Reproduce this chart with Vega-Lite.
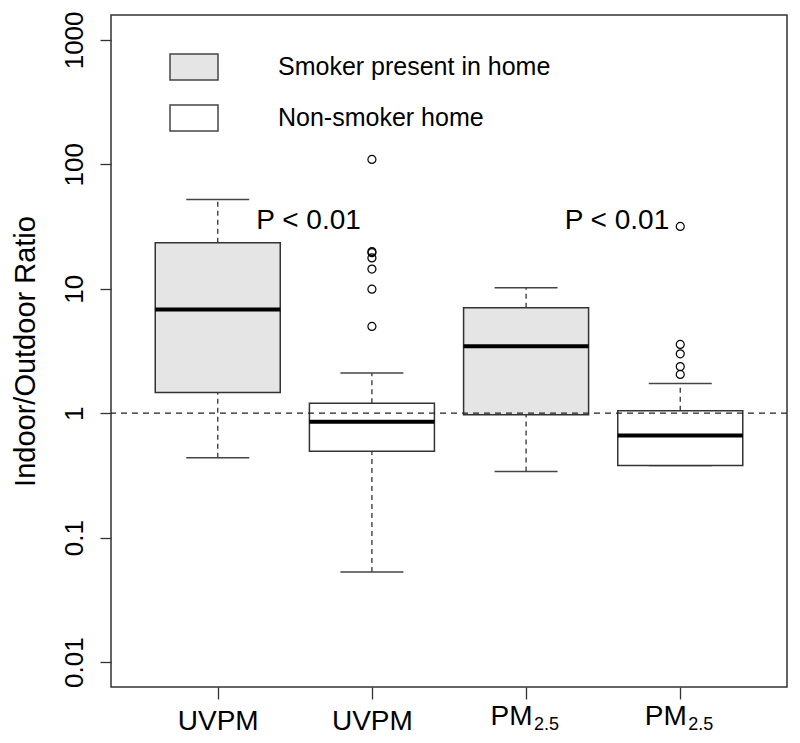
{
  "$schema": "https://vega.github.io/schema/vega-lite/v6.json",
  "width": 676,
  "height": 672,
  "autosize": {"type": "none"},
  "padding": {"left": 111, "top": 15, "right": 13, "bottom": 56},
  "background": "white",
  "config": {
    "view": {"stroke": "#333", "strokeWidth": 1.5},
    "font": "Liberation Sans",
    "axis": {"grid": false, "domainColor": "#333", "tickColor": "#333", "labelColor": "black", "titleColor": "black", "labelFont": "Liberation Sans", "titleFont": "Liberation Sans", "titleFontWeight": "normal"},
    "axisY": {
      "titleFontSize": 29,
      "titleAngle": -90,
      "titleAlign": "center",
      "titleBaseline": "alphabetic",
      "titleX": -77,
      "titleY": 336,
      "labelFontSize": 26,
      "labelAngle": -90,
      "labelAlign": "center",
      "labelBaseline": "alphabetic",
      "labelPadding": 18,
      "tickSize": 11,
      "tickWidth": 1.3,
      "domain": false,
      "labelOverlap": false,
      "labelFlush": false
    }
  },
  "datasets": {
    "boxes": [
      {"pos": 1, "group": "Smoker present in home", "lo": 0.438, "q1": 1.47, "med": 6.82, "q3": 23.4, "hi": 52.2},
      {"pos": 2, "group": "Non-smoker home", "lo": 0.0531, "q1": 0.495, "med": 0.853, "q3": 1.2, "hi": 2.1},
      {"pos": 3, "group": "Smoker present in home", "lo": 0.34, "q1": 0.97, "med": 3.46, "q3": 7.03, "hi": 10.2},
      {"pos": 4, "group": "Non-smoker home", "lo": 0.38, "q1": 0.38, "med": 0.662, "q3": 1.045, "hi": 1.73}
    ],
    "outliers": [
      {"pos": 2, "value": 109.5},
      {"pos": 2, "value": 19.9},
      {"pos": 2, "value": 19.5},
      {"pos": 2, "value": 17.7},
      {"pos": 2, "value": 14.4},
      {"pos": 2, "value": 9.93},
      {"pos": 2, "value": 4.98},
      {"pos": 4, "value": 31.7},
      {"pos": 4, "value": 3.57},
      {"pos": 4, "value": 3.0},
      {"pos": 4, "value": 2.37},
      {"pos": 4, "value": 2.05}
    ],
    "notes": [
      {"pos": 1.25, "value": 30.5, "label": "P < 0.01"},
      {"pos": 3.25, "value": 30.5, "label": "P < 0.01"}
    ]
  },
  "resolve": {"axis": {"x": "independent"}},
  "layer": [
    {
      "data": {"name": "boxes"},
      "mark": {"type": "rule", "strokeDash": [5, 4], "stroke": "#333", "strokeWidth": 1.3},
      "encoding": {
        "x": {"field": "pos", "type": "quantitative", "scale": {"domain": [0.34, 4.66], "nice": false, "zero": false}, "axis": null},
        "y": {"field": "q3", "type": "quantitative", "title": "Indoor/Outdoor Ratio", "scale": {"type": "log", "domain": [0.0063096, 1584.89], "nice": false}, "axis": {"values": [0.01, 0.1, 1, 10, 100, 1000], "labelExpr": "datum.value >= 1 ? format(datum.value, 'd') : format(datum.value, '.2~f')"}},
        "y2": {"field": "hi"}
      }
    },
    {
      "data": {"name": "boxes"},
      "mark": {"type": "rule", "strokeDash": [5, 4], "stroke": "#333", "strokeWidth": 1.3},
      "encoding": {
        "x": {"field": "pos", "type": "quantitative", "axis": null},
        "y": {"field": "lo", "type": "quantitative", "title": "Indoor/Outdoor Ratio", "axis": {"values": [0.01, 0.1, 1, 10, 100, 1000], "labelExpr": "datum.value >= 1 ? format(datum.value, 'd') : format(datum.value, '.2~f')"}},
        "y2": {"field": "q1"}
      }
    },
    {
      "data": {"name": "boxes"},
      "mark": {"type": "tick", "orient": "horizontal", "size": 63, "thickness": 1.5, "color": "#444", "opacity": 1},
      "encoding": {
        "x": {"field": "pos", "type": "quantitative", "axis": null},
        "y": {"field": "hi", "type": "quantitative", "title": "Indoor/Outdoor Ratio", "axis": {"values": [0.01, 0.1, 1, 10, 100, 1000], "labelExpr": "datum.value >= 1 ? format(datum.value, 'd') : format(datum.value, '.2~f')"}}
      }
    },
    {
      "data": {"name": "boxes"},
      "mark": {"type": "tick", "orient": "horizontal", "size": 63, "thickness": 1.5, "color": "#444", "opacity": 1},
      "encoding": {
        "x": {"field": "pos", "type": "quantitative", "axis": null},
        "y": {"field": "lo", "type": "quantitative", "title": "Indoor/Outdoor Ratio", "axis": {"values": [0.01, 0.1, 1, 10, 100, 1000], "labelExpr": "datum.value >= 1 ? format(datum.value, 'd') : format(datum.value, '.2~f')"}}
      }
    },
    {
      "data": {"name": "boxes"},
      "mark": {"type": "bar", "width": 125, "stroke": "#333", "strokeWidth": 1.5, "opacity": 1, "cornerRadius": 0},
      "encoding": {
        "x": {
          "field": "pos", "type": "quantitative",
          "axis": {
            "orient": "bottom",
            "title": null,
            "values": [1, 2, 3, 4],
            "labelExpr": "datum.value <= 2 ? 'UVPM' : 'PM'",
            "labelFontSize": 28,
            "labelBaseline": "alphabetic",
            "labelAlign": "center",
            "labelOffset": {"condition": {"test": "datum.value > 2", "value": -15}, "value": 0},
            "labelPadding": {"condition": {"test": "datum.value > 2", "value": 25}, "value": 30},
            "tickSize": 12,
            "tickWidth": 1.3,
            "domain": false,
            "labelFlush": false,
            "labelOverlap": false
          }
        },
        "y": {"field": "q1", "type": "quantitative", "title": "Indoor/Outdoor Ratio", "axis": {"values": [0.01, 0.1, 1, 10, 100, 1000], "labelExpr": "datum.value >= 1 ? format(datum.value, 'd') : format(datum.value, '.2~f')"}},
        "y2": {"field": "q3"},
        "fill": {
          "field": "group", "type": "nominal",
          "scale": {"domain": ["Smoker present in home", "Non-smoker home"], "range": ["#e5e5e5", "#ffffff"]},
          "legend": {
            "title": null,
            "orient": "none",
            "legendX": 58,
            "legendY": 27,
            "padding": 0,
            "symbolType": "M-1,-0.54H1V0.54H-1Z",
            "symbolSize": 2304,
            "symbolStrokeColor": "#444",
            "symbolStrokeWidth": 1.5,
            "symbolOpacity": 1,
            "labelFontSize": 25,
            "labelFont": "Liberation Sans",
            "labelColor": "black",
            "labelOffset": 59,
            "rowPadding": 10,
            "labelLimit": 500
          }
        }
      }
    },
    {
      "data": {"name": "boxes"},
      "mark": {"type": "tick", "orient": "horizontal", "size": 125, "thickness": 4, "color": "black", "opacity": 1},
      "encoding": {
        "x": {
          "field": "pos", "type": "quantitative",
          "axis": {
            "orient": "bottom",
            "title": null,
            "values": [3, 4],
            "labelExpr": "'2.5'",
            "labelFontSize": 18,
            "labelBaseline": "alphabetic",
            "labelAlign": "center",
            "labelOffset": 20,
            "labelPadding": 30,
            "tickSize": 12,
            "tickOpacity": 0,
            "domain": false,
            "labelFlush": false,
            "labelOverlap": false
          }
        },
        "y": {"field": "med", "type": "quantitative", "title": "Indoor/Outdoor Ratio", "axis": {"values": [0.01, 0.1, 1, 10, 100, 1000], "labelExpr": "datum.value >= 1 ? format(datum.value, 'd') : format(datum.value, '.2~f')"}}
      }
    },
    {
      "data": {"name": "outliers"},
      "mark": {"type": "point", "shape": "circle", "size": 64, "filled": false, "stroke": "black", "strokeWidth": 1.2, "opacity": 1},
      "encoding": {
        "x": {"field": "pos", "type": "quantitative", "axis": null},
        "y": {"field": "value", "type": "quantitative", "title": "Indoor/Outdoor Ratio", "axis": {"values": [0.01, 0.1, 1, 10, 100, 1000], "labelExpr": "datum.value >= 1 ? format(datum.value, 'd') : format(datum.value, '.2~f')"}}
      }
    },
    {
      "data": {"name": "notes"},
      "mark": {"type": "text", "align": "left", "baseline": "alphabetic", "fontSize": 28, "font": "Liberation Sans", "color": "black"},
      "encoding": {
        "x": {"field": "pos", "type": "quantitative", "axis": null},
        "y": {"field": "value", "type": "quantitative", "title": "Indoor/Outdoor Ratio", "axis": {"values": [0.01, 0.1, 1, 10, 100, 1000], "labelExpr": "datum.value >= 1 ? format(datum.value, 'd') : format(datum.value, '.2~f')"}},
        "text": {"field": "label"}
      }
    },
    {
      "data": {"values": [{"ref": 1}]},
      "mark": {"type": "rule", "strokeDash": [6, 5], "stroke": "#222", "strokeWidth": 1.3},
      "encoding": {
        "y": {"field": "ref", "type": "quantitative", "title": "Indoor/Outdoor Ratio", "axis": {"values": [0.01, 0.1, 1, 10, 100, 1000], "labelExpr": "datum.value >= 1 ? format(datum.value, 'd') : format(datum.value, '.2~f')"}}
      }
    }
  ]
}
